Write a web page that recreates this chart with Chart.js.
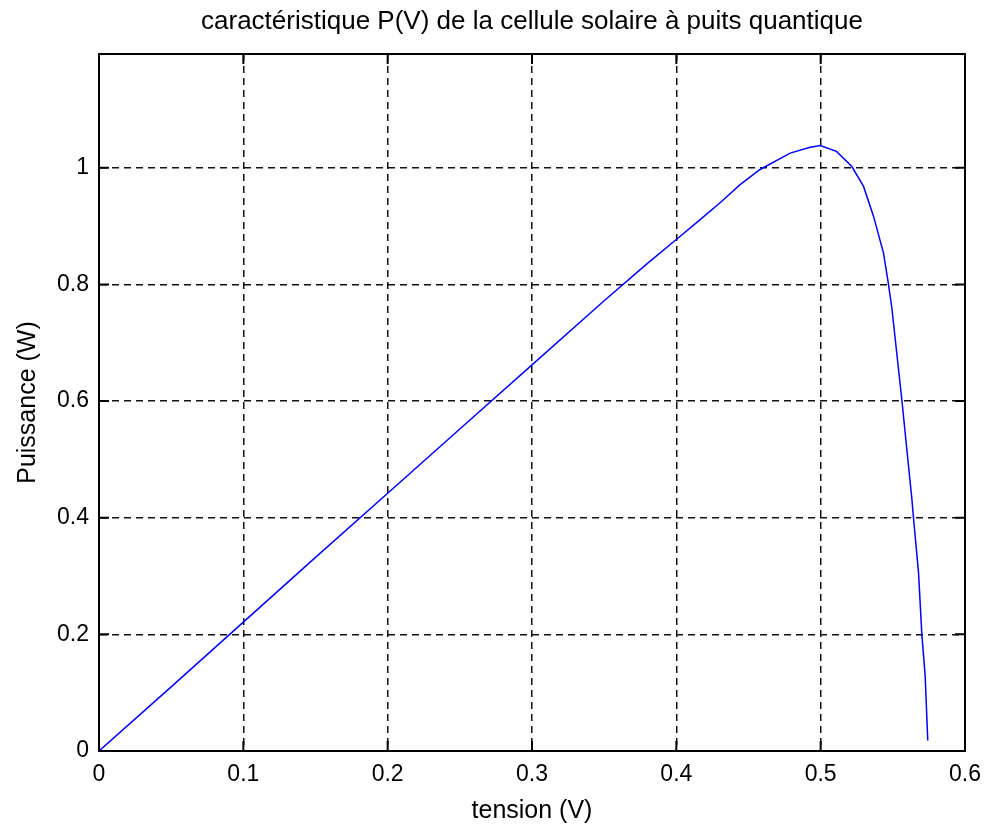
<!DOCTYPE html>
<html>
<head>
<meta charset="utf-8">
<script src="https://cdn.jsdelivr.net/npm/chart.js@4.4.0/dist/chart.umd.min.js"></script>
<style>
  body { margin: 0; background: #fff; }
  #wrap { width: 988px; height: 827px; }
</style>
</head>
<body>
<div id="wrap"><canvas id="myChart"></canvas></div>
<script>
// tension (V) and puissance (W)
const volts = [0, 0.05, 0.1, 0.15, 0.2, 0.25, 0.3, 0.35, 0.38, 0.4, 0.4165, 0.4303, 0.4442, 0.458,
  0.4789, 0.4927, 0.4997, 0.511, 0.5216, 0.5297, 0.5366, 0.5435, 0.547, 0.5493, 0.5562, 0.5597,
  0.5632, 0.5643, 0.5678, 0.5701, 0.5724, 0.5742];
const power = [0, 0.11, 0.221, 0.332, 0.442, 0.552, 0.662, 0.772, 0.836, 0.877, 0.911, 0.94, 0.971, 0.997,
  1.025, 1.035, 1.038, 1.028, 1.002, 0.968, 0.917, 0.854, 0.80, 0.76, 0.603, 0.517,
  0.432, 0.40, 0.306, 0.20, 0.129, 0.018];
const xTicks = [0, 0.1, 0.2, 0.3, 0.4, 0.5, 0.6];
const yTicks = [0, 0.2, 0.4, 0.6, 0.8, 1];

const family = 'Liberation Sans, Arial, sans-serif';
const tickFont = { family: family, size: 23 };
const labelFont = { family: family, size: 25 };

const boxPlugin = {
  id: 'box',
  afterDraw(chart) {
    const ctx = chart.ctx;
    const a = chart.chartArea;
    const xs = chart.scales.x, ys = chart.scales.y;
    ctx.save();
    ctx.strokeStyle = '#000';
    ctx.lineWidth = 2;
    ctx.strokeRect(a.left, a.top, a.right - a.left, a.bottom - a.top);
    ctx.beginPath();
    xTicks.forEach(v => {
      const px = xs.getPixelForValue(v);
      ctx.moveTo(px, a.bottom); ctx.lineTo(px, a.bottom - 10);
      ctx.moveTo(px, a.top); ctx.lineTo(px, a.top + 10);
    });
    yTicks.forEach(v => {
      const py = ys.getPixelForValue(v);
      ctx.moveTo(a.left, py); ctx.lineTo(a.left + 10, py);
      ctx.moveTo(a.right, py); ctx.lineTo(a.right - 10, py);
    });
    ctx.stroke();
    ctx.restore();
  }
};

new Chart('myChart', {
  type: 'scatter',
  data: {
    datasets: [{
      data: volts.map((v, i) => ({ x: v, y: power[i] })),
      showLine: true,
      borderColor: '#0000ff',
      borderWidth: 1.5,
      pointRadius: 0,
      tension: 0
    }]
  },
  options: {
    responsive: true,
    maintainAspectRatio: false,
    animation: false,
    layout: { padding: { left: 0, right: 23, top: 0, bottom: 0 } },
    plugins: {
      legend: { display: false },
      tooltip: { enabled: false },
      title: {
        display: true,
        fullSize: false,
        text: 'caractéristique P(V) de la cellule solaire à puits quantique',
        color: '#000',
        font: { family: family, size: 26, weight: 'normal' },
        padding: { top: 6, bottom: 16.8 }
      }
    },
    scales: {
      x: {
        type: 'linear',
        min: 0,
        max: 0.6,
        afterBuildTicks: s => { s.ticks = xTicks.map(v => ({ value: v })); },
        afterFit: s => { s.height = 76; s.paddingLeft = 0; s.paddingRight = 0; },
        ticks: { color: '#000', font: tickFont, padding: 10, maxRotation: 0, callback: v => String(v) },
        grid: { color: '#111', lineWidth: 1.5, drawTicks: false },
        border: { display: true, color: '#000', width: 2, dash: [7, 5] },
        title: { display: true, text: 'tension (V)', color: '#000', font: labelFont, padding: { top: 0, bottom: 1 } }
      },
      y: {
        type: 'linear',
        min: 0,
        max: 1.195,
        afterBuildTicks: s => { s.ticks = yTicks.map(v => ({ value: v })); },
        afterFit: s => { s.width = 99; s.paddingTop = 0; s.paddingBottom = 0; },
        ticks: { color: '#000', font: tickFont, padding: 10, callback: v => String(v) },
        grid: { color: '#111', lineWidth: 1.5, drawTicks: false },
        border: { display: true, color: '#000', width: 2, dash: [7, 5] },
        title: { display: true, text: 'Puissance (W)', color: '#000', font: labelFont, padding: { top: 13, bottom: 0 } }
      }
    }
  },
  plugins: [boxPlugin]
});
</script>
</body>
</html>
